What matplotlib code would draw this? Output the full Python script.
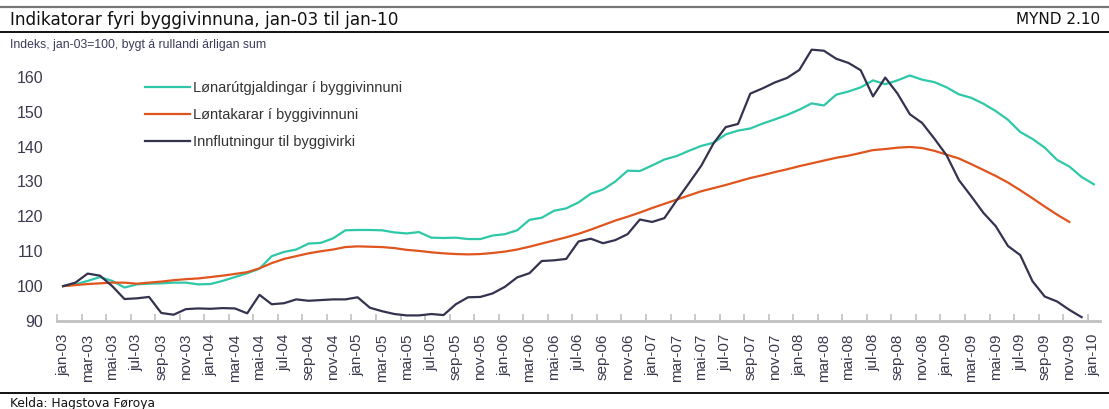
import numpy as np
import matplotlib
matplotlib.use("Agg")
import matplotlib.pyplot as plt
from matplotlib.lines import Line2D

# month names (faroese) and years on the category axis
month_names = ['jan', 'feb', 'mar', 'apr', 'mai', 'jun', 'jul', 'aug', 'sep', 'okt', 'nov', 'des']
years = ['03', '04', '05', '06', '07', '08', '09', '10']

# Lønarútgjaldingar í byggivinnuni (jan-03 .. jan-10)
wages = [100.0, 100.5, 101.5, 102.6, 101.5, 99.6, 100.5, 100.7, 100.8, 101.0, 101.0, 100.5,
         100.6, 101.5, 102.6, 103.7, 105.0, 108.6, 109.8, 110.5, 112.2, 112.4, 113.7, 116.0,
         116.1, 116.1, 116.0, 115.4, 115.1, 115.5, 113.9, 113.8, 113.9, 113.5, 113.5, 114.5,
         114.9, 116.0, 119.0, 119.6, 121.6, 122.3, 124.0, 126.5, 127.7, 130.0, 133.1, 133.0,
         134.6, 136.3, 137.3, 138.8, 140.2, 141.1, 143.5, 144.6, 145.2, 146.6, 147.8, 149.1,
         150.6, 152.4, 151.8, 154.9, 155.8, 157.0, 159.0, 157.9, 159.0, 160.4, 159.2, 158.5,
         157.0, 155.0, 154.0, 152.3, 150.2, 147.7, 144.2, 142.2, 139.7, 136.2, 134.3, 131.3,
         129.2]

# Løntakarar í byggivinnuni (jan-03 .. nov-09)
employees = [100.0, 100.3, 100.6, 100.8, 101.0, 101.0, 100.7, 101.0, 101.3, 101.7, 102.0, 102.2,
             102.6, 103.0, 103.5, 104.0, 105.1, 106.6, 107.8, 108.6, 109.4, 110.0, 110.5, 111.2,
             111.4, 111.3, 111.2, 110.9, 110.4, 110.1, 109.7, 109.4, 109.2, 109.1, 109.2, 109.5,
             109.9, 110.5, 111.3, 112.2, 113.1, 114.0, 115.0, 116.2, 117.5, 118.8, 119.9, 121.1,
             122.4, 123.6, 124.8, 126.0, 127.2, 128.1, 129.0, 130.0, 131.0, 131.8, 132.7, 133.5,
             134.4, 135.2, 136.0, 136.8, 137.4, 138.2, 139.0, 139.3, 139.7, 139.9, 139.6, 138.8,
             137.7, 136.6, 135.0, 133.3, 131.6, 129.7, 127.5, 125.2, 122.8, 120.5, 118.4]

# Innflutningur til byggivirki (jan-03 .. des-09)
imports = [100.0, 101.0, 103.6, 103.0, 100.0, 96.3, 96.5, 96.9, 92.3, 91.8, 93.4, 93.6,
           93.5, 93.7, 93.6, 92.2, 97.5, 94.8, 95.1, 96.2, 95.8, 96.0, 96.2, 96.2,
           96.8, 93.8, 92.8, 92.0, 91.6, 91.6, 92.0, 91.7, 94.8, 96.8, 96.9, 97.9,
           99.8, 102.5, 103.7, 107.2, 107.4, 107.8, 112.8, 113.6, 112.3, 113.2, 114.9, 119.1,
           118.4, 119.5, 124.6, 129.5, 134.5, 140.9, 145.6, 146.5, 155.2, 156.7, 158.4, 159.7,
           162.0, 167.8, 167.5, 165.2, 164.0, 161.9, 154.4, 159.8, 155.2, 149.3, 146.8, 142.3,
           137.5, 130.4, 125.8, 121.0, 117.2, 111.5, 108.9, 101.4, 97.0, 95.6, 93.2, 91.1]

series_names = ['Lønarútgjaldingar í byggivinnuni', 'Løntakarar í byggivinnuni',
                'Innflutningur til byggivirki']
colors = ['#2ec8a9', '#e0551e', '#34334f']
y_ticks = [90, 100, 110, 120, 130, 140, 150, 160]

categories = [f'{m}-{y}' for y in years for m in month_names][:len(wages)]

narrow = ['Liberation Sans', 'DejaVu Sans']
label_color = '#3a3a4e'

fig = plt.figure(figsize=(11.09, 4.09), dpi=100)
W, H = 1109, 409

def fy(py):
    return 1 - py / H

# header and footer rules
fig.add_artist(Line2D([0, 1], [fy(7), fy(7)], color='#777777', lw=1.6))
fig.add_artist(Line2D([0, 1], [fy(32), fy(32)], color='#111111', lw=1.4))
fig.add_artist(Line2D([0, 1], [fy(393), fy(393)], color='#111111', lw=1.4))

fig.text(10 / W, fy(20), 'Indikatorar fyri byggivinnuna, jan-03 til jan-10', fontsize=12.2,
         color='#111111', va='center', ha='left')
fig.text(1100 / W, fy(20), 'MYND 2.10', fontsize=11, color='#111111', va='center', ha='right')
fig.text(10 / W, fy(45), 'Indeks, jan-03=100, bygt á rullandi árligan sum', fontsize=8.8,
         family=narrow, color='#3b3b5c', va='center', ha='left')
fig.text(10 / W, fy(404), 'Kelda: Hagstova Føroya', fontsize=8.8, color='#111111',
         va='center', ha='left')

ax = fig.add_axes([57 / W, fy(321), (1100 - 57) / W, (321 - 42) / H])
x = np.arange(len(categories))
for vals, name, c in zip([wages, employees, imports], series_names, colors):
    ax.plot(x[:len(vals)], vals, color=c, lw=1.6, label=name, solid_joinstyle='round')

ax.set_xlim(-0.5, len(categories) - 0.5)
ax.set_ylim(90, 170)
ax.set_yticks(y_ticks)
ax.set_yticklabels([str(v) for v in y_ticks], fontsize=11.5, color=label_color, family=narrow)
ax.set_xticks(x[::2])
ax.set_xticklabels(categories[::2], rotation=90, fontsize=11, color=label_color, family=narrow)
ax.set_xticks(np.arange(-0.5, len(categories) - 1, 2), minor=True)
ax.tick_params(axis='x', which='major', length=0, pad=9)
ax.tick_params(axis='x', which='minor', direction='in', length=5, width=1.2, color='#c0c0c0')
ax.tick_params(axis='y', length=0, pad=10)
for s in ['top', 'right', 'left']:
    ax.spines[s].set_visible(False)
ax.spines['bottom'].set_color('#c0c0c0')
ax.spines['bottom'].set_linewidth(2)

ax.legend(loc='upper left', bbox_to_anchor=((145 - 57) / 1043, (321 - 81) / 279), frameon=False,
          prop={'family': narrow, 'size': 10.5}, labelcolor='#333333', handlelength=3.1,
          handletextpad=0.2, labelspacing=0.9, borderpad=0, borderaxespad=0)

fig.savefig('out.png', dpi=100)
